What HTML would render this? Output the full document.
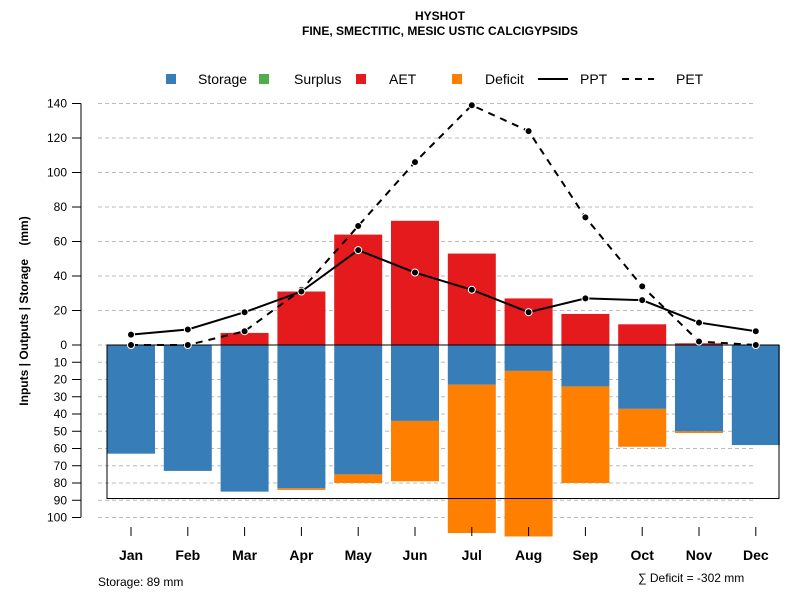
<!DOCTYPE html>
<html><head><meta charset="utf-8"><style>body{margin:0;background:#fff}svg{font-family:"Liberation Sans",sans-serif}</style></head>
<body>
<svg id="c" width="800" height="600" xmlns="http://www.w3.org/2000/svg">
<text x="440" y="20" text-anchor="middle" font-size="12" font-weight="bold">HYSHOT</text>
<text x="440" y="35" text-anchor="middle" font-size="12" font-weight="bold">FINE, SMECTITIC, MESIC USTIC CALCIGYPSIDS</text>
<g font-size="14">
<rect x="166" y="74" width="10" height="10" fill="#377EB8"/><text x="198" y="84">Storage</text>
<rect x="259" y="74" width="10" height="10" fill="#4DAF4A"/><text x="294" y="84">Surplus</text>
<rect x="356" y="74" width="10" height="10" fill="#E41A1C"/><text x="389" y="84">AET</text>
<rect x="452" y="74" width="10" height="10" fill="#FF7F00"/><text x="485" y="84">Deficit</text>
<line x1="538" y1="79" x2="568" y2="79" stroke="#000" stroke-width="2"/><text x="580" y="84">PPT</text>
<line x1="622" y1="79" x2="654" y2="79" stroke="#000" stroke-width="2" stroke-dasharray="7,6"/><text x="676" y="84">PET</text>
</g>
<text xml:space="preserve" transform="translate(28,311) rotate(-90)" text-anchor="middle" font-size="12" font-weight="bold">Inputs | Outputs | Storage    (mm)</text>
<g id="plot"></g>
<text x="98" y="586" font-size="12">Storage: 89 mm</text>
<text x="638" y="582" font-size="12">∑ Deficit = -302 mm</text>
</svg>
<script>
const months=["Jan","Feb","Mar","Apr","May","Jun","Jul","Aug","Sep","Oct","Nov","Dec"];
const storage=[63,73,85,83,75,44,23,15,24,37,50,58];
const deficitEnd=[63,73,85,84,80,79,109,111,80,59,51,58];
const aet=[0,0,7,31,64,72,53,27,18,12,1,0];
const ppt=[6,9,19,31,55,42,32,19,27,26,13,8];
const pet=[0,0,8,32,69,106,139,124,74,34,2,0];
const upTicks=[0,20,40,60,80,100,120,140];
const downTicks=[10,20,30,40,50,60,70,80,90,100];
const storageMax=89;
const NS="http://www.w3.org/2000/svg";
const g=document.getElementById('plot');
const y=v=>345-v*1.725;
const x=i=>131+i*56.8;
function el(t,a){const e=document.createElementNS(NS,t);for(const k in a)e.setAttribute(k,a[k]);g.appendChild(e);return e;}
upTicks.concat(downTicks.map(d=>-d)).forEach(v=>{
 const gl=el('line',{x1:98,x2:756,y1:y(v),y2:y(v),stroke:'#bbb','stroke-dasharray':'4,3'});
 
 
 const tk=el('line',{x1:72,x2:81,y1:y(v),y2:y(v),stroke:'#000'});
 
 
 const t=el('text',{x:67,y:y(v)+4,'text-anchor':'end','font-size':12});
 t.textContent=Math.abs(v);
 
 
});
const ax=el('line',{x1:81,x2:81,y1:y(140),y2:y(-100),stroke:'#000'});


const bw=48;
months.forEach((m,i)=>{
 const X=x(i)-bw/2;
 const d=el('rect',{x:X,y:y(-storage[i]),width:bw,height:(deficitEnd[i]-storage[i])*1.725,fill:'#FF7F00'});
 
 
 const s=el('rect',{x:X,y:y(0),width:bw,height:storage[i]*1.725,fill:'#377EB8'});
 
 
 const a=el('rect',{x:X,y:y(aet[i]),width:bw,height:aet[i]*1.725,fill:'#E41A1C'});
 
 
 const tk=el('line',{x1:x(i),x2:x(i),y1:527,y2:536,stroke:'#000'});
 
 
 const t=el('text',{x:x(i),y:560,'text-anchor':'middle','font-size':14,'font-weight':'bold'});
 t.textContent=m;
 
 
});
const box=el('rect',{x:107,y:y(0),width:672,height:storageMax*1.725,fill:'none',stroke:'#000','stroke-width':1});


function series(vals,dash,name){
 const p=el('polyline',{points:vals.map((v,i)=>x(i)+','+y(v)).join(' '),fill:'none',stroke:'#000','stroke-width':2,'stroke-dasharray':dash});
 
 
 vals.forEach((v,i)=>{
  const c=el('circle',{cx:x(i),cy:y(v),r:3.5,fill:'#000',stroke:'#fff','stroke-width':1});
  
  
 });
}
series(pet,'7,6','pet');
series(ppt,'none','ppt');
</script>
</body></html>
